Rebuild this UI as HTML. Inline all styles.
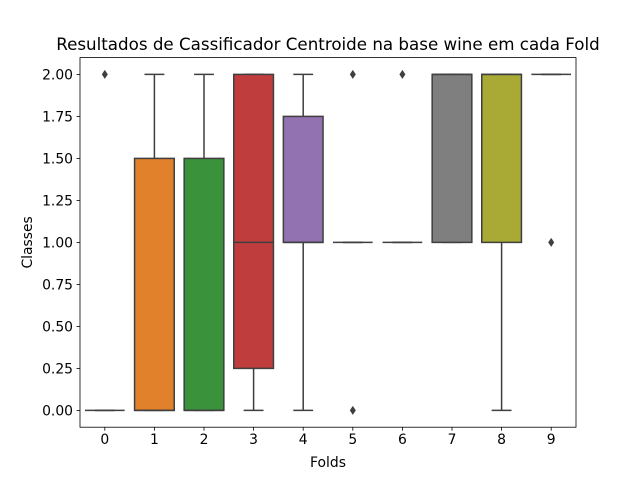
<!DOCTYPE html>
<html><head><meta charset="utf-8"><style>
body{margin:0;background:#fff}
svg{display:block;font-family:"DejaVu Sans","Liberation Sans",sans-serif}
</style></head><body>
<svg id="chart" width="640" height="480"></svg>
<script>
const categories=["0","1","2","3","4","5","6","7","8","9"];
const q1=[0,0,0,0.25,1,1,1,1,1,2];
const medians=[0,0,0,1,1,1,1,2,2,2];
const q3=[0,1.5,1.5,2,1.75,1,1,2,2,2];
const whiskerLow=[0,0,0,0,0,1,1,1,0,2];
const whiskerHigh=[0,2,2,2,2,1,1,2,2,2];
const fliers=[[2],[],[],[],[],[0,2],[2],[],[],[1]];
const yTicks=[0,0.25,0.5,0.75,1,1.25,1.5,1.75,2];
const colors=["#3274a1","#e1812c","#3a923a","#c03d3e","#9372b2","#845b53","#d684bd","#7f7f7f","#a9aa35","#2e9fb3"];
const L=80,R=576,T=57.6,B=427.2,ymin=-0.1,ymax=2.1;
const NS="http://www.w3.org/2000/svg";
const svg=document.getElementById('chart');
const band=(R-L)/categories.length;
const x=i=>L+band*(i+0.5);
const y=v=>B-(v-ymin)/(ymax-ymin)*(B-T);
function el(tag,attrs,parent){const e=document.createElementNS(NS,tag);for(const k in attrs)e.setAttribute(k,attrs[k]);(parent||svg).appendChild(e);return e;}
const lc="#3f3f3f";
categories.forEach((c,i)=>{
  const g=el('g',{});
  
  
  const cx=x(i),w=band*0.8;
  el('line',{x1:cx,x2:cx,y1:y(whiskerLow[i]),y2:y(q1[i]),stroke:lc,'stroke-width':1.5},g);
  el('line',{x1:cx,x2:cx,y1:y(q3[i]),y2:y(whiskerHigh[i]),stroke:lc,'stroke-width':1.5},g);
  el('line',{x1:cx-w/4,x2:cx+w/4,y1:y(whiskerLow[i]),y2:y(whiskerLow[i]),stroke:lc,'stroke-width':1.5},g);
  el('line',{x1:cx-w/4,x2:cx+w/4,y1:y(whiskerHigh[i]),y2:y(whiskerHigh[i]),stroke:lc,'stroke-width':1.5},g);
  el('rect',{x:cx-w/2,y:y(q3[i]),width:w,height:Math.max(0,y(q1[i])-y(q3[i])),fill:colors[i],stroke:lc,'stroke-width':1.5},g);
  el('line',{x1:cx-w/2,x2:cx+w/2,y1:y(medians[i]),y2:y(medians[i]),stroke:lc,'stroke-width':1.5},g);
  fliers[i].forEach(f=>{
    const d=el('path',{d:`M${cx} ${y(f)-4.5}L${cx+3} ${y(f)}L${cx} ${y(f)+4.5}L${cx-3} ${y(f)}Z`,fill:lc},g);
    
    
  });
  el('line',{x1:cx,x2:cx,y1:B,y2:B+3.5,stroke:'#000','stroke-width':0.8});
  const t=el('text',{x:cx,y:B+17,'font-size':13.9,'text-anchor':'middle'});
  
  
  t.textContent=c;
});
yTicks.forEach(v=>{
  el('line',{x1:L-3.5,x2:L,y1:y(v),y2:y(v),stroke:'#000','stroke-width':0.8});
  const t=el('text',{x:L-7,y:y(v)+5,'font-size':13.9,'text-anchor':'end'});
  
  
  t.textContent=v.toFixed(2);
});
const frame=el('rect',{x:L,y:T,width:R-L,height:B-T,fill:'none',stroke:'#000','stroke-width':0.8});


const title=el('text',{x:(L+R)/2,y:50,'font-size':16.7,'text-anchor':'middle'});


title.textContent='Resultados de Cassificador Centroide na base wine em cada Fold';
const xl=el('text',{x:(L+R)/2,y:467,'font-size':13.9,'text-anchor':'middle'});


xl.textContent='Folds';
const yl=el('text',{x:0,y:0,'font-size':13.9,'text-anchor':'middle',transform:`translate(32,${(T+B)/2}) rotate(-90)`});


yl.textContent='Classes';
</script>
</body></html>
